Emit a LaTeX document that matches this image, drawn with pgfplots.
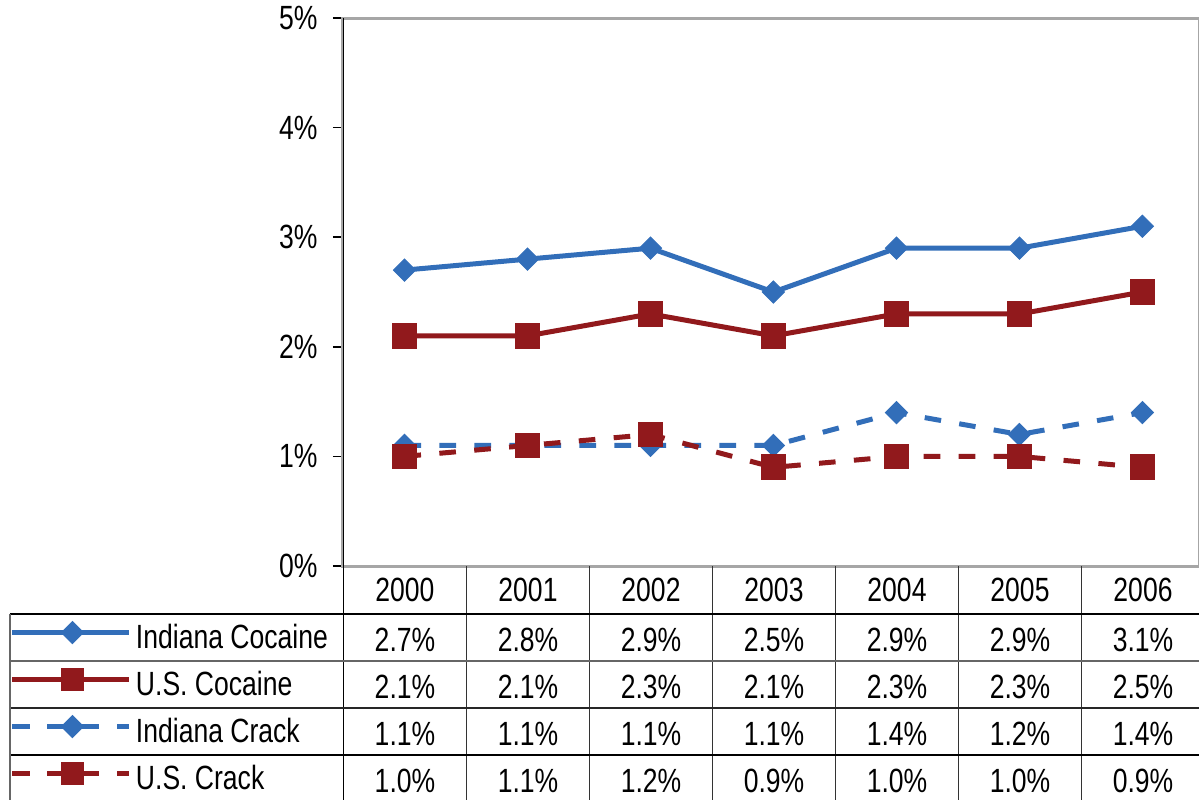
\documentclass[border=0pt]{standalone}
\usepackage{fontspec}
\setmainfont{Liberation Sans}[FakeStretch=0.79]
\usepackage{pgfplots}
\pgfplotsset{compat=1.18}
\definecolor{bl}{RGB}{50,110,185}
\definecolor{rd}{RGB}{145,25,28}
\newcommand{\tf}{\fontsize{16.8}{19}\selectfont}
\begin{document}
\begin{tikzpicture}
\path[use as bounding box, clip] (-171.5pt,-117pt) rectangle (428pt,283pt);
\begin{axis}[
  scale only axis, width=428pt, height=274pt,
  xmin=-0.5, xmax=6.46, ymin=0, ymax=5,
  xtick=\empty, ytick={0,1,2,3,4,5},
  ytick pos=left, tick align=outside, major tick length=5pt,
  ytick style={draw=black, line width=0.8pt},
  yticklabel={\pgfmathprintnumber{\tick}\%},
  /pgf/number format/assume math mode=true,
  yticklabel style={font=\tf, anchor=east, inner sep=0pt, xshift=-7.5pt},
  axis line style={draw=gray!70, line width=1.5pt},
  clip=false,
  legend style={at={(axis description cs:0,0)}, xshift=-166.5pt, yshift=-24pt, anchor=north west, draw=none, fill=none, row sep=0pt, column sep=2pt, inner sep=0pt, outer sep=0pt, nodes={font=\tf, inner sep=0pt, minimum height=23.5pt, yshift=-2.5pt}},
  legend cell align=left,
]
\addplot[bl, line width=2.5pt, mark=square*, mark size=3.9pt, mark options={rotate=45, solid, line width=0.5pt}, forget plot] coordinates {(0,2.7)(1,2.8)(2,2.9)(3,2.5)(4,2.9)(5,2.9)(6,3.1)};
\addplot[rd, line width=2.5pt, mark=square*, mark size=6.2pt, mark options={solid, line width=0.5pt}, forget plot] coordinates {(0,2.1)(1,2.1)(2,2.3)(3,2.1)(4,2.3)(5,2.3)(6,2.5)};
\addplot[bl, line width=2.5pt, dash pattern=on 8.3pt off 9.2pt, mark=square*, mark size=3.9pt, mark options={rotate=45, solid, line width=0.5pt}, forget plot] coordinates {(0,1.1)(1,1.1)(2,1.1)(3,1.1)(4,1.4)(5,1.2)(6,1.4)};
\addplot[rd, line width=2.5pt, dash pattern=on 8.3pt off 9.2pt, mark=square*, mark size=6.2pt, mark options={solid, line width=0.5pt}, forget plot] coordinates {(0,1.0)(1,1.1)(2,1.2)(3,0.9)(4,1.0)(5,1.0)(6,0.9)};
\addlegendimage{legend image code/.code={\draw[bl, line width=2.5pt] (0pt,0pt) -- (58.5pt,0pt); \draw[bl, mark=square*, mark size=3.9pt, mark options={rotate=45, line width=0.5pt}] plot coordinates {(30pt,0pt)};}}
\addlegendentry{Indiana Cocaine}
\addlegendimage{legend image code/.code={\draw[rd, line width=2.5pt] (0pt,0pt) -- (58.5pt,0pt); \draw[rd, mark=square*, mark size=5.7pt, mark options={line width=0.5pt}] plot coordinates {(30pt,0pt)};}}
\addlegendentry{U.S. Cocaine}
\addlegendimage{legend image code/.code={\draw[bl, line width=2.5pt, dash pattern=on 9pt off 8.5pt on 26pt off 9pt on 6pt] (0pt,0pt) -- (58.5pt,0pt); \draw[bl, mark=square*, mark size=3.9pt, mark options={rotate=45, line width=0.5pt}] plot coordinates {(30pt,0pt)};}}
\addlegendentry{Indiana Crack}
\addlegendimage{legend image code/.code={\draw[rd, line width=2.5pt, dash pattern=on 9pt off 8.5pt on 26pt off 9pt on 6pt] (0pt,0pt) -- (58.5pt,0pt); \draw[rd, mark=square*, mark size=5.7pt, mark options={line width=0.5pt}] plot coordinates {(30pt,0pt)};}}
\addlegendentry{U.S. Crack}
\end{axis}
% data table grid
\draw[black, line width=0.8pt] (0.25pt,274pt) -- (0.25pt,-117pt);
\foreach \k in {1,...,6} \draw[black!80, line width=0.8pt] (0.25pt+61.5pt*\k,0pt) -- (0.25pt+61.5pt*\k,-117pt);
\draw[black, line width=0.8pt] (-166.5pt,-24pt) -- (428pt,-24pt);
\draw[gray!80!black, line width=0.8pt] (-166.5pt,-47.5pt) -- (428pt,-47.5pt);
\draw[black!85, line width=0.8pt] (-166.5pt,-71pt) -- (428pt,-71pt);
\draw[black, line width=0.8pt] (-166.5pt,-94.5pt) -- (428pt,-94.5pt);
\draw[gray!80!black, line width=0.8pt] (-166.5pt,-24pt) -- (-166.5pt,-117pt);
\foreach \y [count=\k from 0] in {2000,2001,2002,2003,2004,2005,2006}
  \node[font=\tf] at (31pt+61.5pt*\k,-12pt) {\y};
\foreach \vals/\yy in {{2.7,2.8,2.9,2.5,2.9,2.9,3.1}/-37, {2.1,2.1,2.3,2.1,2.3,2.3,2.5}/-60.5, {1.1,1.1,1.1,1.1,1.4,1.2,1.4}/-84, {1.0,1.1,1.2,0.9,1.0,1.0,0.9}/-107.5}
  \foreach \v [count=\k from 0] in \vals
    \node[font=\tf] at (31pt+61.5pt*\k,\yy pt) {\v\%};
\end{tikzpicture}
\end{document}
